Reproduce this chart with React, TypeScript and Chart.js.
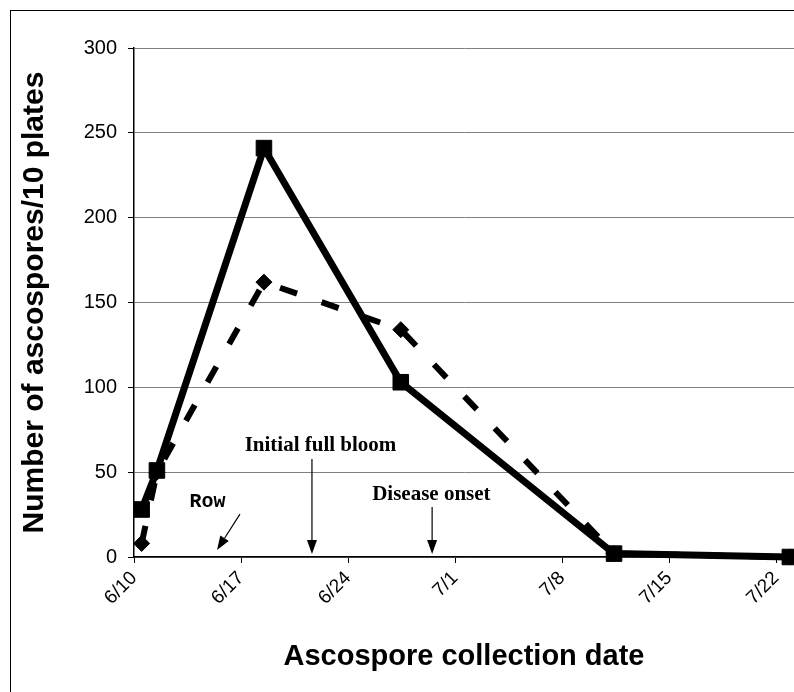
import React, { useEffect, useRef } from "react";
import { Chart, registerables } from "chart.js";

Chart.register(...registerables);

// Days since 6/10
const tickDays = [0, 7, 14, 21, 28, 35, 42];
const tickLabels = ["6/10", "6/17", "6/24", "7/1", "7/8", "7/15", "7/22"];

const solidDays = [0.5, 1.5, 8.5, 17.45, 31.4, 42.9];
const solidValues = [28, 51, 241, 103, 2, 0];

const dashedDays = [0.5, 1.5, 8.5, 17.45, 31.4, 42.9];
const dashedValues = [8, 50, 162, 134, 2, 0];

const yTicks = [0, 50, 100, 150, 200, 250, 300];

// annotations in data coordinates (day, value)
const textLabels = [
  { text: "Initial full bloom", day: 12.2, value: 65.5, font: "bold 21px 'Liberation Serif'" },
  { text: "Disease onset", day: 19.45, value: 36.5, font: "bold 21px 'Liberation Serif'" },
  { text: "Row", day: 4.8, value: 32.4, font: "bold 20px 'Liberation Mono'" },
];
const arrows = [
  { fromDay: 11.64, fromValue: 57.7, toDay: 11.64, toValue: 1.8 },
  { fromDay: 19.5, fromValue: 29.5, toDay: 19.5, toValue: 1.8 },
  { fromDay: 6.93, fromValue: 25.3, toDay: 5.43, toValue: 4.1 },
];

const annotationPlugin = {
  id: "annotations",
  afterDatasetsDraw(chart: any) {
    const ctx = chart.ctx;
    const xs = chart.scales.x;
    const ys = chart.scales.y;
    ctx.save();
    ctx.fillStyle = "#000";
    ctx.strokeStyle = "#000";
    ctx.textAlign = "center";
    ctx.textBaseline = "middle";
    for (const t of textLabels) {
      ctx.font = t.font;
      ctx.fillText(t.text, xs.getPixelForValue(t.day), ys.getPixelForValue(t.value));
    }
    for (const a of arrows) {
      const x1 = xs.getPixelForValue(a.fromDay);
      const y1 = ys.getPixelForValue(a.fromValue);
      const x2 = xs.getPixelForValue(a.toDay);
      const y2 = ys.getPixelForValue(a.toValue);
      const ang = Math.atan2(y2 - y1, x2 - x1);
      const headLen = 14;
      const headHalf = 5;
      const bx = x2 - headLen * Math.cos(ang);
      const by = y2 - headLen * Math.sin(ang);
      ctx.lineWidth = 1.2;
      ctx.beginPath();
      ctx.moveTo(x1, y1);
      ctx.lineTo(bx, by);
      ctx.stroke();
      ctx.beginPath();
      ctx.moveTo(x2, y2);
      ctx.lineTo(bx + headHalf * Math.sin(ang), by - headHalf * Math.cos(ang));
      ctx.lineTo(bx - headHalf * Math.sin(ang), by + headHalf * Math.cos(ang));
      ctx.closePath();
      ctx.fill();
    }
    ctx.restore();
  },
  afterDraw(chart: any) {
    const ctx = chart.ctx;
    ctx.save();
    ctx.strokeStyle = "#000";
    ctx.lineWidth = 1;
    ctx.strokeRect(10.5, 10.5, 820, 720);
    ctx.restore();
  },
};

export default function App() {
  const ref = useRef<HTMLCanvasElement | null>(null);
  useEffect(() => {
    document.body.style.margin = "0";
    const canvas = ref.current!;
    const chart = new Chart(canvas, {
      type: "line",
      data: {
        datasets: [
          {
            label: "Solid",
            data: solidDays.map((d, i) => ({ x: d, y: solidValues[i] })),
            borderColor: "#000",
            backgroundColor: "#000",
            borderWidth: 7,
            pointStyle: "rect",
            pointRadius: 11,
            pointBorderWidth: 1,
            pointBackgroundColor: "#000",
            pointBorderColor: "#000",
            tension: 0,
          },
          {
            label: "Dashed",
            data: dashedDays.map((d, i) => ({ x: d, y: dashedValues[i] })),
            borderColor: "#000",
            backgroundColor: "#000",
            borderWidth: 6,
            borderDash: [18, 26],
            pointStyle: "rectRot",
            pointRadius: 8,
            pointBorderWidth: 1,
            pointBackgroundColor: "#000",
            pointBorderColor: "#000",
            tension: 0,
          },
        ],
      },
      options: {
        responsive: false,
        animation: false,
        clip: false,
        layout: { autoPadding: false, padding: { left: 0, right: 0, top: 48, bottom: 0 } },
        plugins: {
          legend: { display: false },
          tooltip: { enabled: false },
        },
        scales: {
          x: {
            type: "linear",
            min: 0,
            max: 43.17,
            afterFit: (s: any) => {
              s.height = 135;
              s.paddingLeft = 0;
              s.paddingRight = 0;
            },
            afterBuildTicks: (s: any) => {
              s.ticks = tickDays.map((v) => ({ value: v }));
            },
            ticks: {
              autoSkip: false,
              minRotation: 45,
              maxRotation: 45,
              padding: 4,
              color: "#000",
              font: { family: "'Liberation Sans', Arial", size: 19 },
              callback: (v: any) => {
                const i = tickDays.indexOf(Number(v));
                return i >= 0 ? tickLabels[i] : "";
              },
            },
            grid: {
              drawOnChartArea: false,
              drawTicks: true,
              tickLength: 6,
              tickColor: "#000",
            },
            border: { display: true, color: "#000", width: 1.5 },
            title: {
              display: true,
              text: "Ascospore collection date",
              color: "#000",
              font: { family: "'Liberation Sans', Arial", size: 29, weight: "bold" },
              padding: { top: 0, bottom: 18 },
            },
          },
          y: {
            type: "linear",
            min: 0,
            max: 300,
            afterFit: (s: any) => {
              s.width = 134;
              s.paddingTop = 0;
              s.paddingBottom = 0;
            },
            afterBuildTicks: (s: any) => {
              s.ticks = yTicks.map((v) => ({ value: v }));
            },
            ticks: {
              padding: 11,
              color: "#000",
              font: { family: "'Liberation Sans', Arial", size: 20 },
            },
            grid: {
              color: "#808080",
              lineWidth: 1,
              tickLength: 6,
              tickColor: "#000",
            },
            border: { display: true, color: "#000", width: 1.5 },
            title: {
              display: true,
              text: "Number of ascospores/10 plates",
              color: "#000",
              font: { family: "'Liberation Sans', Arial", size: 30, weight: "bold" },
              padding: { top: 17, bottom: 0 },
            },
          },
        },
      },
      plugins: [annotationPlugin],
    });
    return () => chart.destroy();
  }, []);
  return <canvas ref={ref} width={794} height={692} style={{ display: "block" }} />;
}
